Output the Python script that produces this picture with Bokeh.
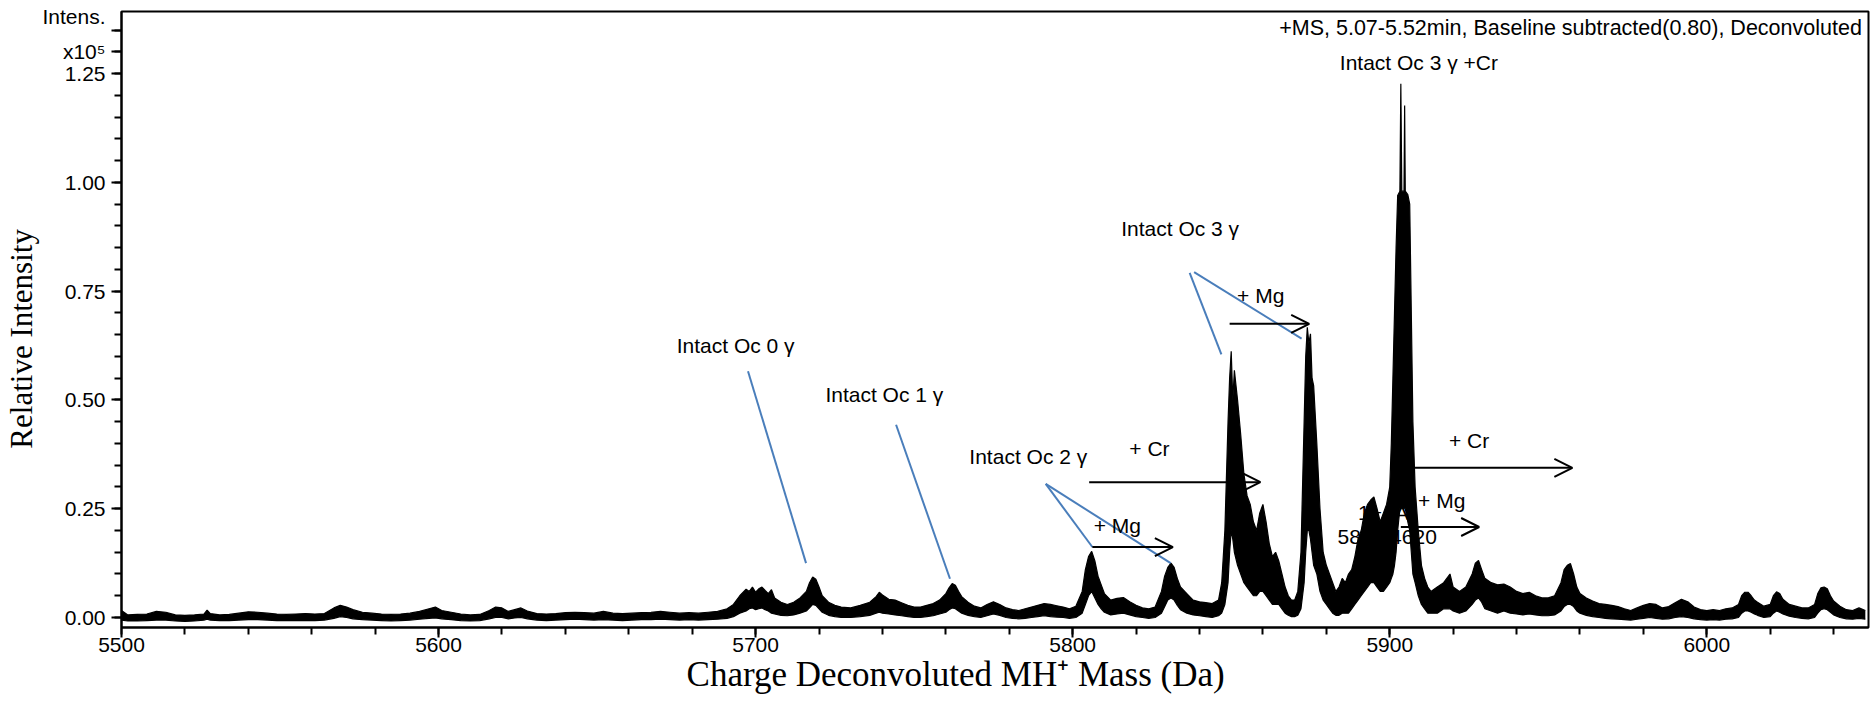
from bokeh.plotting import figure
from bokeh.models import Range1d, FixedTicker, Label, Arrow, OpenHead
from bokeh.embed import file_html
from bokeh.resources import INLINE
from bokeh.core.properties import value

# ---------------- data ----------------
# mass (Da) and the lower / upper edge of the noisy trace (x10^5 counts)
spec_mass = [
    5500, 5502, 5505, 5508, 5511, 5514, 5517, 5520, 5523, 5526,
    5527, 5528, 5531, 5534, 5537, 5540, 5543, 5546, 5549, 5552,
    5555, 5558, 5561, 5564, 5567, 5569, 5571, 5573, 5576, 5579,
    5582, 5585, 5588, 5591, 5594, 5597, 5599, 5601, 5604, 5607,
    5610, 5613, 5616, 5618, 5620, 5622, 5624, 5626, 5628, 5631,
    5634, 5637, 5640, 5643, 5646, 5649, 5652, 5655, 5658, 5661,
    5664, 5667, 5670, 5673, 5676, 5679, 5682, 5685, 5688, 5691,
    5693, 5695, 5697, 5698, 5699, 5700, 5701, 5702, 5703, 5704,
    5705, 5706, 5708, 5710, 5712, 5714, 5716, 5717, 5718, 5719,
    5720, 5721, 5723, 5725, 5727, 5730, 5733, 5736, 5738, 5739,
    5740, 5742, 5744, 5746, 5748, 5750, 5752, 5754, 5756, 5758,
    5760, 5761, 5762, 5763, 5764, 5765, 5767, 5769, 5771, 5773,
    5775, 5777, 5779, 5781, 5783, 5785, 5787, 5789, 5791, 5793,
    5795, 5797, 5799, 5801, 5803, 5804, 5805, 5806, 5807, 5808,
    5809, 5810, 5812, 5814, 5816, 5818, 5820, 5822, 5824, 5826,
    5828, 5829, 5830, 5831, 5832, 5833, 5834, 5836, 5838, 5840,
    5842, 5844, 5846, 5847, 5848, 5849, 5849.5, 5850, 5850.5, 5851,
    5852, 5853, 5854, 5855, 5856, 5857, 5858, 5859, 5860, 5861,
    5862, 5863, 5864, 5865, 5866, 5867, 5868, 5869, 5870, 5871,
    5872, 5873, 5873.5, 5874, 5874.5, 5875, 5875.5, 5876, 5877, 5878,
    5879, 5880, 5881, 5882, 5883, 5884, 5885, 5886, 5887, 5888,
    5889, 5890, 5891, 5892, 5893, 5894, 5895, 5896, 5897, 5898,
    5899, 5900, 5900.5, 5901, 5901.5, 5902, 5902.5, 5903.2, 5903.5, 5903.8,
    5904.5, 5904.7, 5904.9, 5905.7, 5906.3, 5906.8, 5907.3, 5908, 5909, 5910,
    5911, 5912, 5913, 5915, 5917, 5919, 5920, 5922, 5924, 5926,
    5927, 5928, 5929, 5930, 5932, 5934, 5936, 5938, 5940, 5942,
    5944, 5946, 5948, 5950, 5952, 5954, 5955, 5956, 5957, 5958,
    5959, 5960, 5962, 5964, 5966, 5968, 5970, 5972, 5974, 5976,
    5978, 5980, 5982, 5984, 5986, 5988, 5990, 5992, 5994, 5996,
    5998, 6000, 6002, 6004, 6006, 6008, 6010, 6011, 6012, 6013,
    6014, 6015, 6016, 6018, 6020, 6021, 6022, 6023, 6024, 6026,
    6028, 6030, 6032, 6034, 6035, 6036, 6037, 6038, 6039, 6040,
    6042, 6044, 6046, 6048, 6050]

spec_low = [
    -0.006, -0.008, -0.008, -0.007, -0.006, -0.006, -0.008, -0.009, -0.008, -0.006,
    -0.004, -0.006, -0.007, -0.007, -0.006, -0.005, -0.005, -0.006, -0.007, -0.007,
    -0.007, -0.007, -0.007, -0.006, -0.002, 0.002, 0.000, -0.003, -0.005, -0.006,
    -0.007, -0.008, -0.007, -0.006, -0.004, -0.002, -0.001, -0.003, -0.005, -0.007,
    -0.008, -0.007, -0.003, 0.000, 0.000, -0.003, -0.001, 0.000, -0.003, -0.006,
    -0.007, -0.006, -0.005, -0.004, -0.005, -0.006, -0.005, -0.006, -0.007, -0.006,
    -0.005, -0.005, -0.004, -0.005, -0.006, -0.005, -0.006, -0.005, -0.004, -0.002,
    0.002, 0.010, 0.015, 0.020, 0.022, 0.018, 0.020, 0.022, 0.018, 0.015,
    0.010, 0.008, 0.005, 0.004, 0.006, 0.010, 0.015, 0.022, 0.030, 0.028,
    0.020, 0.012, 0.005, 0.002, 0.000, 0.000, 0.002, 0.005, 0.010, 0.012,
    0.010, 0.008, 0.006, 0.004, 0.002, 0.000, 0.000, 0.002, 0.004, 0.008,
    0.012, 0.018, 0.022, 0.020, 0.015, 0.010, 0.005, 0.002, 0.000, 0.004,
    0.008, 0.005, 0.000, -0.002, -0.003, -0.002, 0.000, 0.002, 0.004, 0.002,
    0.001, 0.000, -0.002, 0.000, 0.010, 0.030, 0.050, 0.060, 0.045, 0.030,
    0.020, 0.012, 0.006, 0.008, 0.010, 0.006, 0.002, 0.000, -0.002, 0.000,
    0.010, 0.025, 0.040, 0.045, 0.040, 0.028, 0.018, 0.010, 0.006, 0.004,
    0.002, 0.000, 0.004, 0.010, 0.030, 0.080, 0.150, 0.200, 0.180, 0.150,
    0.120, 0.100, 0.080, 0.070, 0.060, 0.050, 0.050, 0.060, 0.060, 0.050,
    0.040, 0.030, 0.030, 0.030, 0.020, 0.010, 0.005, 0.002, 0.002, 0.005,
    0.020, 0.080, 0.150, 0.200, 0.200, 0.180, 0.150, 0.120, 0.100, 0.060,
    0.040, 0.030, 0.020, 0.010, 0.005, 0.005, 0.010, 0.010, 0.010, 0.020,
    0.030, 0.040, 0.050, 0.060, 0.070, 0.080, 0.080, 0.070, 0.060, 0.060,
    0.070, 0.080, 0.090, 0.100, 0.120, 0.150, 0.200, 0.250, 0.250, 0.250,
    0.250, 0.250, 0.250, 0.220, 0.200, 0.150, 0.100, 0.080, 0.050, 0.030,
    0.020, 0.010, 0.010, 0.010, 0.020, 0.020, 0.015, 0.010, 0.015, 0.030,
    0.040, 0.045, 0.035, 0.020, 0.015, 0.010, 0.015, 0.010, 0.008, 0.006,
    0.008, 0.006, 0.004, 0.004, 0.006, 0.015, 0.025, 0.030, 0.030, 0.025,
    0.015, 0.010, 0.005, 0.002, 0.000, -0.002, -0.003, -0.004, -0.005, -0.006,
    -0.004, -0.002, 0.000, -0.002, -0.004, -0.003, 0.000, 0.002, 0.000, -0.003,
    -0.005, -0.006, -0.005, -0.006, -0.004, -0.003, 0.000, 0.010, 0.015, 0.015,
    0.012, 0.008, 0.005, 0.000, 0.002, 0.010, 0.015, 0.012, 0.008, 0.003,
    0.000, -0.002, -0.003, 0.000, 0.010, 0.018, 0.020, 0.018, 0.012, 0.006,
    0.000, -0.003, -0.004, -0.002, -0.004]

spec_high = [
    0.016, 0.006, 0.007, 0.008, 0.014, 0.012, 0.006, 0.005, 0.006, 0.008,
    0.017, 0.009, 0.006, 0.007, 0.010, 0.013, 0.012, 0.010, 0.008, 0.007,
    0.008, 0.009, 0.008, 0.009, 0.022, 0.028, 0.024, 0.018, 0.012, 0.010,
    0.008, 0.007, 0.008, 0.010, 0.014, 0.020, 0.024, 0.016, 0.012, 0.008,
    0.006, 0.007, 0.016, 0.024, 0.022, 0.014, 0.018, 0.022, 0.015, 0.009,
    0.008, 0.009, 0.011, 0.012, 0.011, 0.010, 0.014, 0.010, 0.009, 0.010,
    0.011, 0.012, 0.014, 0.012, 0.010, 0.011, 0.010, 0.012, 0.014, 0.020,
    0.030, 0.050, 0.065, 0.060, 0.070, 0.058, 0.066, 0.070, 0.062, 0.055,
    0.064, 0.045, 0.035, 0.030, 0.035, 0.045, 0.060, 0.080, 0.093, 0.088,
    0.070, 0.050, 0.035, 0.028, 0.024, 0.022, 0.028, 0.035, 0.048, 0.058,
    0.052, 0.042, 0.040, 0.034, 0.028, 0.024, 0.024, 0.028, 0.032, 0.040,
    0.055, 0.068, 0.078, 0.074, 0.060, 0.048, 0.035, 0.026, 0.022, 0.030,
    0.036, 0.030, 0.022, 0.018, 0.016, 0.020, 0.024, 0.028, 0.032, 0.030,
    0.027, 0.024, 0.020, 0.026, 0.060, 0.110, 0.140, 0.152, 0.130, 0.095,
    0.075, 0.055, 0.040, 0.044, 0.046, 0.036, 0.028, 0.022, 0.020, 0.024,
    0.060, 0.095, 0.115, 0.125, 0.115, 0.090, 0.070, 0.055, 0.040, 0.036,
    0.034, 0.032, 0.040, 0.080, 0.200, 0.450, 0.550, 0.612, 0.500, 0.568,
    0.500, 0.420, 0.330, 0.280, 0.260, 0.220, 0.200, 0.240, 0.260, 0.220,
    0.170, 0.140, 0.150, 0.130, 0.100, 0.070, 0.050, 0.040, 0.040, 0.060,
    0.150, 0.450, 0.600, 0.667, 0.630, 0.652, 0.550, 0.533, 0.400, 0.250,
    0.150, 0.120, 0.100, 0.080, 0.060, 0.070, 0.090, 0.080, 0.100, 0.110,
    0.140, 0.180, 0.200, 0.240, 0.260, 0.270, 0.277, 0.250, 0.220, 0.240,
    0.260, 0.300, 0.400, 0.550, 0.700, 0.850, 0.970, 0.980, 1.227, 0.980,
    0.980, 1.177, 0.980, 0.972, 0.950, 0.700, 0.450, 0.300, 0.200, 0.120,
    0.090, 0.070, 0.060, 0.070, 0.080, 0.100, 0.070, 0.060, 0.070, 0.100,
    0.125, 0.131, 0.110, 0.090, 0.080, 0.075, 0.077, 0.070, 0.060, 0.055,
    0.058, 0.050, 0.045, 0.045, 0.050, 0.080, 0.110, 0.120, 0.124, 0.100,
    0.070, 0.055, 0.045, 0.038, 0.032, 0.030, 0.028, 0.025, 0.020, 0.016,
    0.022, 0.028, 0.032, 0.030, 0.022, 0.025, 0.034, 0.042, 0.036, 0.024,
    0.018, 0.016, 0.018, 0.016, 0.020, 0.022, 0.030, 0.050, 0.058, 0.058,
    0.050, 0.040, 0.035, 0.026, 0.030, 0.050, 0.059, 0.055, 0.042, 0.030,
    0.026, 0.022, 0.022, 0.030, 0.055, 0.068, 0.070, 0.066, 0.050, 0.038,
    0.026, 0.018, 0.016, 0.022, 0.016]

assert len(spec_mass) == len(spec_low) == len(spec_high)

x_tick_values = [5500, 5600, 5700, 5800, 5900, 6000]
x_tick_labels = ["5500", "5600", "5700", "5800", "5900", "6000"]
y_tick_values = [0.0, 0.25, 0.5, 0.75, 1.0, 1.25, 1.30, 1.35]
y_tick_labels = ["0.00", "0.25", "0.50", "0.75", "1.00", "1.25", "x10\u2075", "Intens.\n"]

# annotation texts placed on the spectrum (data coordinates)
ann_text = ["Intact Oc 0 \u03b3", "Intact Oc 1 \u03b3", "Intact Oc 2 \u03b3", "+ Cr", "+ Mg",
            "Intact Oc 3 \u03b3", "+ Mg", "Intact Oc 3 \u03b3 +Cr", "+ Cr", "+ Mg"]
ann_x = [5693.7, 5740.6, 5786.0, 5824.2, 5814.1, 5833.9, 5859.3, 5909.2, 5925.0, 5916.4]
ann_y = [0.625, 0.513, 0.370, 0.388, 0.211, 0.894, 0.740, 1.276, 0.407, 0.269]

# peak label partly hidden behind the trace
peak_text = ["1+ (A)", "5899.4620"]
peak_x = [5899.1, 5899.2]
peak_y = [0.242, 0.185]

# blue leader lines
lead_x0 = [5697.6, 5744.3, 5791.5, 5791.5, 5836.9, 5838.3]
lead_y0 = [0.566, 0.443, 0.307, 0.307, 0.792, 0.794]
lead_x1 = [5715.9, 5761.3, 5806.2, 5830.9, 5846.9, 5872.2]
lead_y1 = [0.125, 0.089, 0.162, 0.125, 0.605, 0.641]

# black mass-shift arrows (+Cr, +Mg)
arrow_x0 = [5805.2, 5806.2, 5849.5, 5900.1, 5903.5]
arrow_x1 = [5859.2, 5831.6, 5874.6, 5957.6, 5928.2]
arrow_y = [0.311, 0.162, 0.675, 0.344, 0.208]

header_text = "+MS, 5.07-5.52min, Baseline subtracted(0.80), Deconvoluted"
x_title = "Charge Deconvoluted MH\u207a Mass (Da)"
y_title = "Relative Intensity"

# ---------------- figure ----------------
SANS = "Liberation Sans"
SERIF = "Liberation Serif"
NBSP = "\u00a0"

p = figure(width=1872, height=701, output_backend="svg", toolbar_location=None, title=None,
           x_range=Range1d(5500, 6051.0), y_range=Range1d(-0.023, 1.393),
           min_border_left=121, min_border_right=4, min_border_top=11, min_border_bottom=74)
p.background_fill_color = "white"
p.border_fill_color = "white"
p.grid.visible = False
p.outline_line_color = "black"
p.outline_line_width = 2
p.outline_line_alpha = 1.0

p.xaxis.ticker = FixedTicker(ticks=x_tick_values,
                             minor_ticks=[v for v in range(5500, 6060, 20)])
p.xaxis.major_label_overrides = {v: l for v, l in zip(x_tick_values, x_tick_labels)}
p.yaxis.ticker = FixedTicker(ticks=y_tick_values,
                             minor_ticks=[round(0.05 * i, 2) for i in range(0, 28)])
p.yaxis.major_label_overrides = {v: l for v, l in zip(y_tick_values, y_tick_labels)}

for ax in (p.xaxis, p.yaxis):
    ax.axis_line_width = 2
    ax.axis_line_color = "black"
    ax.major_tick_line_width = 2
    ax.minor_tick_line_width = 2
    ax.major_tick_line_color = "black"
    ax.minor_tick_line_color = "black"
    ax.major_tick_out = 10
    ax.major_tick_in = 0
    ax.minor_tick_out = 7
    ax.minor_tick_in = 0
    ax.major_label_text_font = SANS
    ax.major_label_text_font_size = "21px"
    ax.major_label_text_color = "black"
    ax.axis_label_text_font = SERIF
    ax.axis_label_text_font_style = "normal"
    ax.axis_label_text_color = "black"
p.yaxis.major_label_standoff = 6
p.xaxis.major_label_standoff = 0

# axis titles (trailing no-break spaces shift the centred title like the original)
p.yaxis.axis_label = y_title + NBSP * 5
p.yaxis.axis_label_text_font_size = "31px"
p.yaxis.axis_label_standoff = 0
p.xaxis.axis_label = x_title + NBSP * 9
p.xaxis.axis_label_text_font_size = "35px"
p.xaxis.axis_label_standoff = 0

# hidden peak label (drawn first, so the trace covers it)
p.text(x=peak_x, y=peak_y, text=peak_text, text_font=value(SANS), text_font_size="21px",
       text_align="center", text_baseline="middle", text_color="black")

# spectrum trace
p.varea(x=spec_mass, y1=spec_low, y2=spec_high, fill_color="black")
p.line(spec_mass, spec_high, line_color="black", line_width=1.2)
p.line(spec_mass, spec_low, line_color="black", line_width=1.2)

# leader lines
p.segment(x0=lead_x0, y0=lead_y0, x1=lead_x1, y1=lead_y1, line_color="#4a7ebb", line_width=2)

# arrows
for xa, xb, ya in zip(arrow_x0, arrow_x1, arrow_y):
    p.add_layout(Arrow(x_start=xa, y_start=ya, x_end=xb, y_end=ya, line_color="black", line_width=2,
                       end=OpenHead(size=18, line_color="black", line_width=2)))

# annotation texts
for t, xx, yy in zip(ann_text, ann_x, ann_y):
    p.add_layout(Label(x=xx, y=yy, text=t, text_font=SANS, text_font_size="21px",
                       text_align="center", text_baseline="middle", text_color="black"))

# header text
p.add_layout(Label(x=6048.9, y=1.356, text=header_text,
                   text_font=SANS, text_font_size="21.5px", text_align="right", text_baseline="middle",
                   text_color="black"))

open("out.html", "w").write(file_html(p, INLINE))
